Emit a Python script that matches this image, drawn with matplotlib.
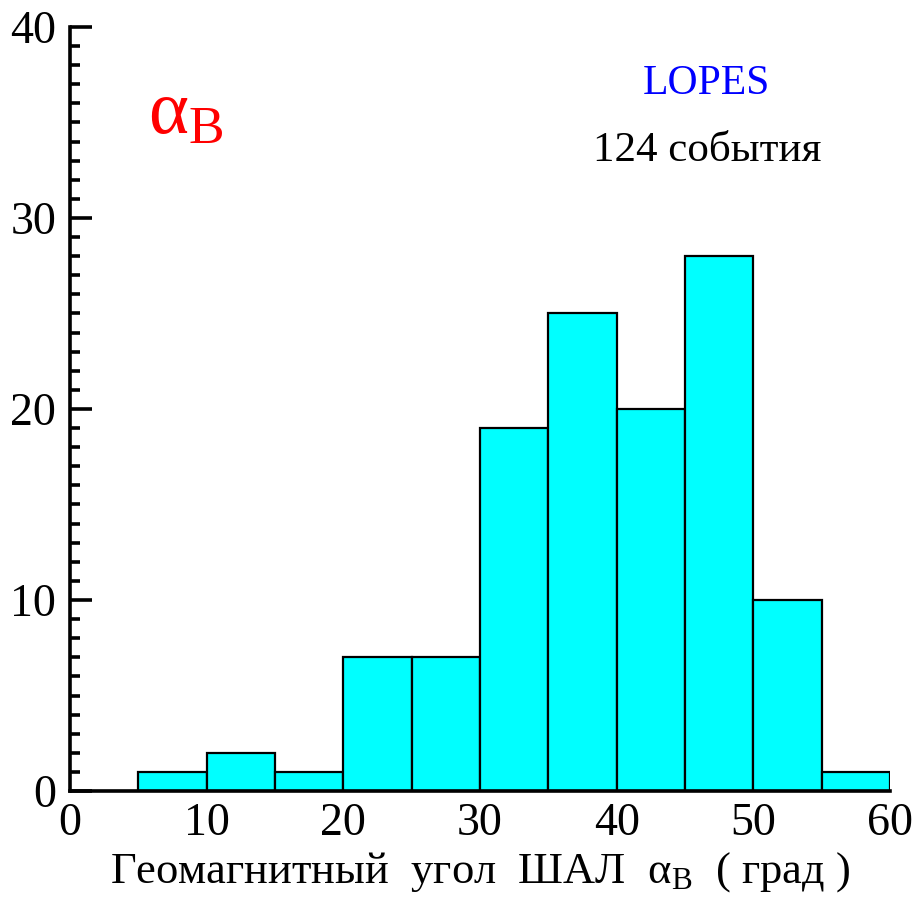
import numpy as np
import matplotlib
matplotlib.use("Agg")
import matplotlib.pyplot as plt
from matplotlib.ticker import MultipleLocator

plt.rcParams["font.family"]=["Liberation Serif","DejaVu Serif"]
plt.rcParams["mathtext.fontset"]="custom"
plt.rcParams["mathtext.rm"]="Liberation Serif"
plt.rcParams["mathtext.it"]="Liberation Serif:italic"

# histogram data (geomagnetic angle, deg)
bin_left=[0,5,10,15,20,25,30,35,40,45,50,55]
counts=[0,1,2,1,7,7,19,25,20,28,10,1]
bin_width=5

fig=plt.figure(figsize=(9.16,8.99),dpi=100)
ax=fig.add_axes([0.0764,0.1201,0.8952,0.850])

ax.bar(bin_left,counts,width=bin_width,align="edge",color="#00ffff",edgecolor="black",linewidth=1.6,zorder=2)

ax.set_xlim(0,60)
ax.set_ylim(0,40)

for s in ["top","right"]:
    ax.spines[s].set_visible(False)
for s in ["left","bottom"]:
    ax.spines[s].set_linewidth(2.6)
    ax.spines[s].set_zorder(3)

ax.xaxis.set_major_locator(MultipleLocator(10))
ax.yaxis.set_major_locator(MultipleLocator(10))
ax.yaxis.set_minor_locator(MultipleLocator(1))
ax.tick_params(axis="x",length=0,labelsize=33,pad=8)
ax.tick_params(axis="y",which="major",direction="in",length=16,width=2.6,labelsize=33,pad=10)
ax.tick_params(axis="y",which="minor",direction="in",length=7,width=2.6)

ax.set_xlabel(r"Геомагнитный  угол  ШАЛ  $\mathrm{\alpha}_\mathrm{B}$  ( град )",fontsize=32,labelpad=4)

ax.text(0.095,0.885,r"$\mathrm{\alpha}_\mathrm{B}$",transform=ax.transAxes,color="red",fontsize=55,ha="left",va="center")
ax.text(0.776,0.925,"LOPES",transform=ax.transAxes,color="blue",fontsize=30,ha="center",va="center")
ax.text(0.777,0.838,"124 события",transform=ax.transAxes,color="black",fontsize=31,ha="center",va="center")

fig.savefig("out.png",dpi=100)
